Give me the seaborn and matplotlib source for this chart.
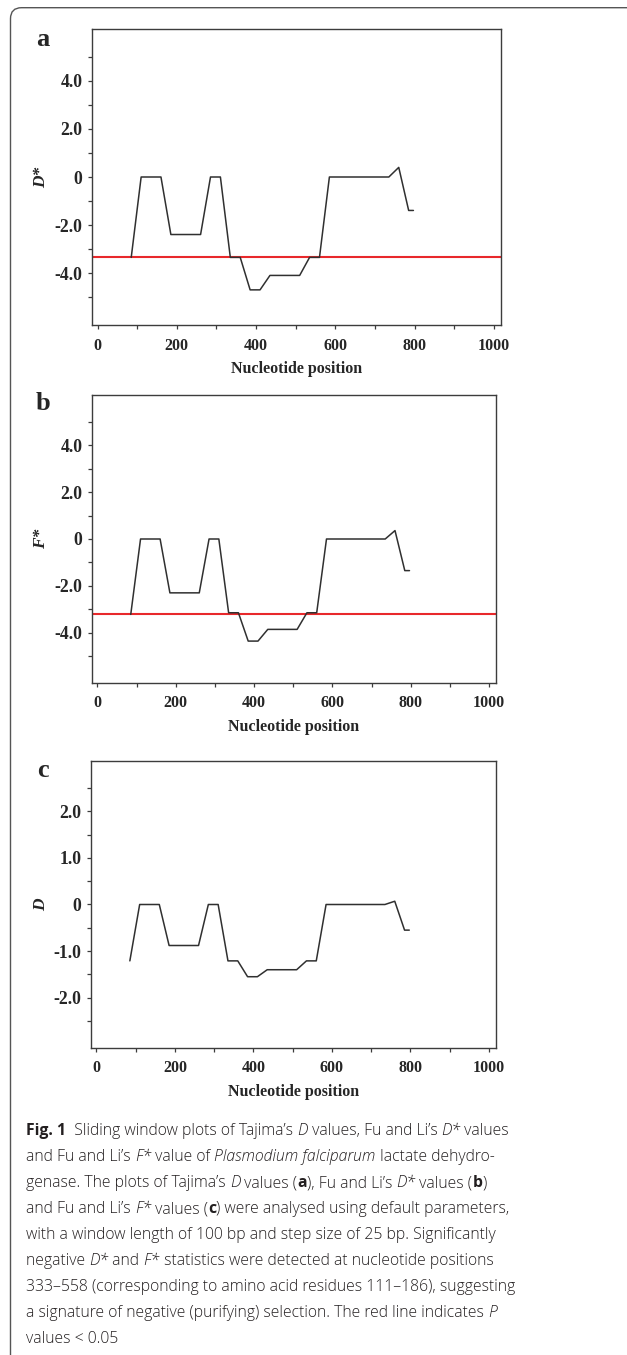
import numpy as np
import pandas as pd
import matplotlib
matplotlib.use("Agg")
import matplotlib.pyplot as plt
import seaborn as sns
from matplotlib.ticker import FixedLocator, FuncFormatter
from matplotlib.path import Path
from matplotlib.patches import PathPatch

# --- data ---
positions = [85, 110, 135, 160, 185, 210, 235, 260, 285, 310, 335, 360, 385, 410, 435,
             460, 485, 510, 535, 560, 585, 610, 635, 660, 685, 710, 735, 760, 785, 797]
d_star = [-3.34, 0, 0, 0, -2.39, -2.39, -2.39, -2.39, 0, 0, -3.34, -3.34, -4.69, -4.69, -4.09,
          -4.09, -4.09, -4.09, -3.34, -3.34, 0, 0, 0, 0, 0, 0, 0, 0.40, -1.39, -1.39]
f_star = [-3.22, 0, 0, 0, -2.30, -2.30, -2.30, -2.30, 0, 0, -3.15, -3.15, -4.36, -4.36, -3.86,
          -3.86, -3.86, -3.86, -3.15, -3.15, 0, 0, 0, 0, 0, 0, 0, 0.36, -1.35, -1.35]
tajima_d = [-1.21, 0, 0, 0, -0.88, -0.88, -0.88, -0.88, 0, 0, -1.21, -1.21, -1.55, -1.55, -1.40,
            -1.40, -1.40, -1.40, -1.21, -1.21, 0, 0, 0, 0, 0, 0, 0, 0.07, -0.55, -0.55]
cutoff_d_star = -3.34
cutoff_f_star = -3.22

df = pd.DataFrame({"pos": positions, "D*": d_star, "F*": f_star, "D": tajima_d})

sns.set_style("ticks")
plt.rcParams["font.family"] = ["Liberation Serif", "DejaVu Serif"]

W, H = 627, 1355
fig = plt.figure(figsize=(W / 100, H / 100), dpi=100)


def px_axes(left, top, right, bottom):
    return fig.add_axes([left / W, 1 - bottom / H, (right - left) / W, (bottom - top) / H])


panels = [
    # letter, column, ylabel, box (l, t, r, b), ylim, major, minor, cutoff, letter baseline
    ("a", "D*", "D*", (92, 29, 501, 325), 6.15, [-4, -2, 0, 2, 4], [-5, -3, -1, 1, 3, 5], cutoff_d_star, 46),
    ("b", "F*", "F*", (92, 395, 496, 683), 6.15, [-4, -2, 0, 2, 4], [-5, -3, -1, 1, 3, 5], cutoff_f_star, 410),
    ("c", "D", "D", (91, 761, 496, 1048), 3.08, [-2, -1, 0, 1, 2], [-2.5, -1.5, -0.5, 0.5, 1.5, 2.5], None, 777),
]

edge = "#3c3c3c"
for letter, col, ylab, box, ylim, major, minor, cutoff, lb in panels:
    ax = px_axes(*box)
    sns.lineplot(data=df, x="pos", y=col, ax=ax, color="#303030", linewidth=1.1,
                 estimator=None, sort=False)
    if cutoff is not None:
        ax.axhline(cutoff, color="#e8282b", linewidth=1.5, zorder=1)
    ax.set_xlim(-14, 1018)
    ax.set_ylim(-ylim, ylim)
    ax.xaxis.set_major_locator(FixedLocator([0, 200, 400, 600, 800, 1000]))
    ax.xaxis.set_minor_locator(FixedLocator([100, 300, 500, 700, 900]))
    ax.yaxis.set_major_locator(FixedLocator(major))
    ax.yaxis.set_minor_locator(FixedLocator(minor))
    ax.yaxis.set_major_formatter(FuncFormatter(lambda v, p: "0" if v == 0 else f"{v:.1f}"))
    ax.tick_params(axis="both", which="both", direction="out", length=3, width=0.9,
                   color=edge, pad=4)
    ax.tick_params(axis="x", labelsize=11.5, pad=6)
    ax.tick_params(axis="y", labelsize=12.7)
    for lab in ax.get_xticklabels() + ax.get_yticklabels():
        lab.set_fontweight("bold")
    for sp in ax.spines.values():
        sp.set_visible(True)
        sp.set_color(edge)
        sp.set_linewidth(1.0)
    ax.set_xlabel("Nucleotide position", fontsize=11.5, fontweight="bold", labelpad=5.5)
    ax.set_ylabel(ylab, fontsize=12.5, fontweight="bold", fontstyle="italic")
    ax.yaxis.set_label_coords((49 - box[0]) / (box[2] - box[0]), 0.5)
    fig.text(43 / W, 1 - lb / H, letter, fontsize=19, fontweight="bold",
             ha="center", va="baseline")

# --- outer frame: left and top edge with a rounded corner ---
fx, fy, r = 10.5, 7.7, 11
verts = [(fx, H), (fx, fy + r), (fx, fy), (fx + r, fy), (W, fy)]
verts = [(x / W, 1 - y / H) for x, y in verts]
codes = [Path.MOVETO, Path.LINETO, Path.CURVE3, Path.CURVE3, Path.LINETO]
fig.add_artist(PathPatch(Path(verts, codes), transform=fig.transFigure, fill=False,
                         edgecolor="#555555", linewidth=1.0))

# --- caption, drawn run by run ---
R, I, B = "r", "i", "b"
caption = [
    [("Fig. 1", B), ("  Sliding window plots of Tajima’s ", R), ("D", I), (" values, Fu and Li’s ", R),
     ("D*", I), (" values", R)],
    [("and Fu and Li’s ", R), ("F*", I), (" value of ", R), ("Plasmodium falciparum", I),
     (" lactate dehydro-", R)],
    [("genase. The plots of Tajima’s ", R), ("D", I), (" values (", R), ("a", B), ("), Fu and Li’s ", R),
     ("D*", I), (" values (", R), ("b", B), (")", R)],
    [("and Fu and Li’s ", R), ("F*", I), (" values (", R), ("c", B),
     (") were analysed using default parameters,", R)],
    [("with a window length of 100 bp and step size of 25 bp. Significantly", R)],
    [("negative ", R), ("D*", I), (" and ", R), ("F*", I),
     (" statistics were detected at nucleotide positions", R)],
    [("333–558 (corresponding to amino acid residues 111–186), suggesting", R)],
    [("a signature of negative (purifying) selection. The red line indicates ", R), ("P", I)],
    [("values < 0.05", R)],
]
cap_font = ["Open Sans", "Noto Sans", "DejaVu Sans"]
renderer = fig.canvas.get_renderer()


def style_kw(s, size):
    return dict(family=cap_font, fontsize=size, color="#231f20",
                fontweight="bold" if s == B else "light",
                fontstyle="italic" if s == I else "normal")


def run_width(txt, s, size):
    t = fig.text(0, 0, "|" + txt + "|", **style_kw(s, size))
    w1 = t.get_window_extent(renderer).width
    t.set_text("||")
    w2 = t.get_window_extent(renderer).width
    t.remove()
    return w1 - w2


base = 10.0
widest = max(sum(run_width(t, s, base) for t, s in line) for line in caption)
cap_size = base * 490 / widest

for i, line in enumerate(caption):
    x = 26.0
    y = 1135 + 26 * i
    for txt, s in line:
        fig.text(x / W, 1 - y / H, txt, ha="left", va="baseline", **style_kw(s, cap_size))
        x += run_width(txt, s, cap_size)

fig.savefig("out.png", dpi=100)
